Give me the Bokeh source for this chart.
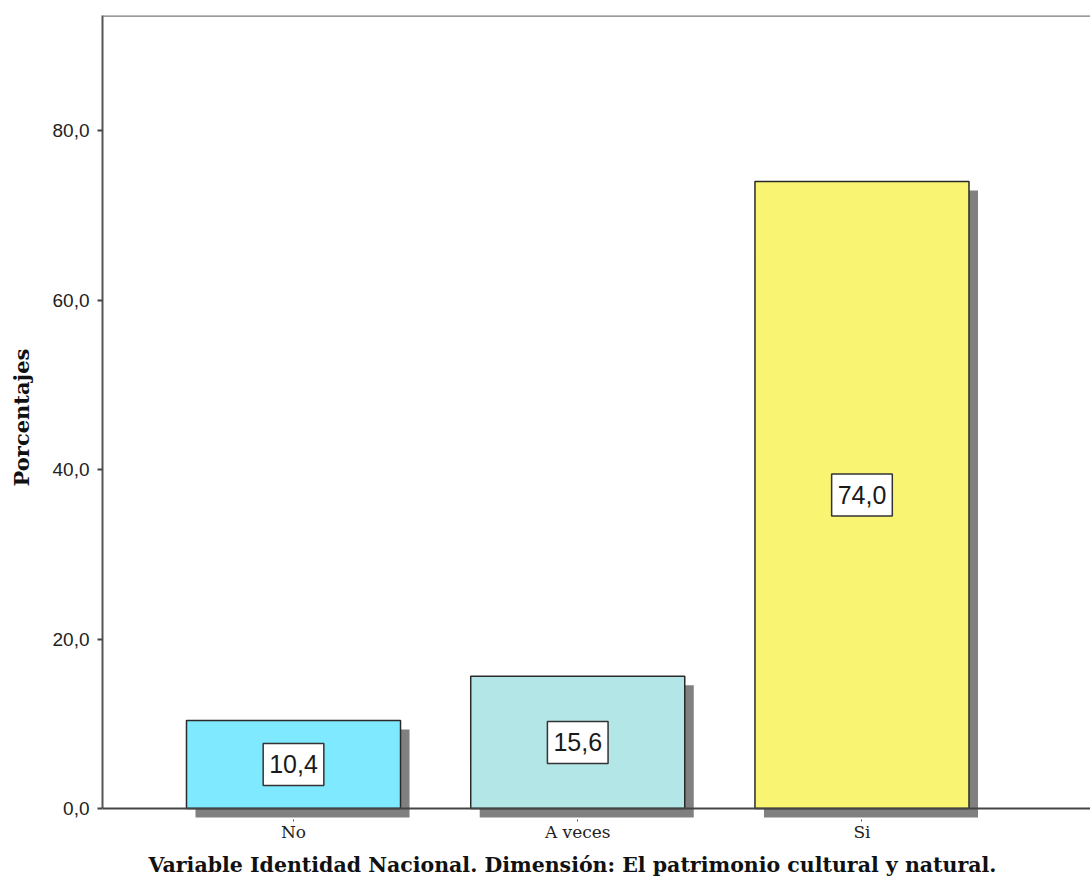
from bokeh.plotting import figure
from bokeh.models import Range1d, FixedTicker, Span, Label, Title
from bokeh.embed import file_html
from bokeh.resources import INLINE

# Distribution of answers (percent of respondents)
categories = ["No", "A veces", "Si"]
percentages = [10.4, 15.6, 74.0]
bar_colors = ["#7FEAFF", "#B3E6E6", "#F9F572"]
y_ticks = [0, 20, 40, 60, 80]
x_title = "Variable Identidad Nacional. Dimensión: El patrimonio cultural y natural."
y_title = "Porcentajes"

positions = list(range(len(categories)))
y_top = 93.6
y_bottom = -1.3
bar_width = 0.753

# frame: 15 px from the top, 66 px reserved for the labels below
border_bottom = 66
frame_h = 885 - 15 - border_bottom
p = figure(
    width=1090, height=885,
    x_range=Range1d(-0.672, 2.804), y_range=Range1d(y_bottom, y_top),
    output_backend="svg", toolbar_location=None,
    min_border_left=102, min_border_right=0, min_border_top=15,
    min_border_bottom=border_bottom,
)
p.outline_line_color = None
p.xgrid.visible = False
p.ygrid.visible = False
p.background_fill_color = "white"
p.border_fill_color = "white"

# pixel size of the drop shadow, converted to data units
px_x = (2.804 + 0.672) / 988.0
px_y = (y_top - y_bottom) / frame_h
dx, dy = 9 * px_x, 9 * px_y

# drop shadows behind the bars
p.quad(
    left=[x - bar_width / 2 + dx for x in positions],
    right=[x + bar_width / 2 + dx for x in positions],
    top=[v - dy for v in percentages],
    bottom=[-dy] * len(positions),
    fill_color="#808080", line_color=None,
)

# bars
p.vbar(x=positions, top=percentages, bottom=0, width=bar_width,
       fill_color=bar_colors, line_color="#2a2a2a", line_width=1.5)

# baseline and top border of the frame
p.add_layout(Span(location=0, dimension="width", line_color="#444444", line_width=2))
p.add_layout(Span(location=y_top, dimension="width", line_color="#7a7a7a", line_width=2.5))

# value boxes in the middle of each bar
for x, v in zip(positions, percentages):
    p.add_layout(Label(
        x=x, y=v / 2, text=f"{v:.1f}".replace(".", ","),
        text_align="center", text_baseline="middle",
        text_font="Liberation Sans", text_font_size="25px", text_color="#1a1a1a",
        background_fill_color="white", border_line_color="#333333", border_line_width=1.5,
        padding=dict(left=6, right=6, top=12, bottom=12),
    ))

# y axis
yax = p.yaxis[0]
yax.ticker = FixedTicker(ticks=y_ticks)
yax.major_label_overrides = {t: f"{t:.1f}".replace(".", ",") for t in y_ticks}
yax.bounds = (0, y_top)
yax.axis_line_color = "#555555"
yax.axis_line_width = 2
yax.major_tick_line_color = "#444444"
yax.major_tick_line_width = 2
yax.major_tick_out = 5
yax.major_tick_in = 0
yax.minor_tick_line_color = None
yax.major_label_standoff = 8
yax.major_label_text_font = "Liberation Sans"
yax.major_label_text_font_size = "19px"
yax.major_label_text_color = "#222222"
yax.axis_label = y_title
yax.axis_label_text_font = "DejaVu Serif"
yax.axis_label_text_font_style = "bold"
yax.axis_label_text_font_size = "21px"
yax.axis_label_text_color = "#111111"
yax.axis_label_standoff = 16

# x axis
xax = p.xaxis[0]
xax.ticker = FixedTicker(ticks=positions)
xax.major_label_overrides = {x: c for x, c in zip(positions, categories)}
xax.axis_line_color = None
xax.major_tick_line_color = "#555555"
xax.major_tick_out = 2
xax.major_tick_in = 0
xax.minor_tick_line_color = None
xax.major_label_standoff = 0
xax.major_label_text_font = "DejaVu Serif"
xax.major_label_text_font_size = "17px"
xax.major_label_text_color = "#222222"

# category axis title under the tick labels
p.add_layout(Title(
    text=x_title, align="left", offset=46, standoff=13,
    text_font="DejaVu Serif", text_font_style="bold", text_font_size="20.5px",
    text_color="#111111",
), "below")

open("out.html", "w").write(file_html(p, INLINE))
